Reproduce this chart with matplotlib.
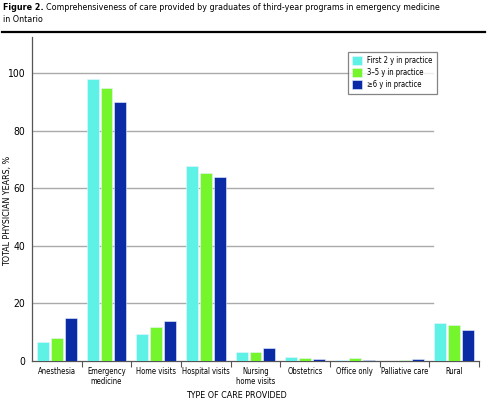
import numpy as np
import matplotlib.pyplot as plt
from matplotlib import font_manager
from matplotlib.lines import Line2D
from matplotlib.patches import Patch

categories = ['Anesthesia', 'Emergency\nmedicine', 'Home visits', 'Hospital visits',
              'Nursing\nhome visits', 'Obstetrics', 'Office only', 'Palliative care', 'Rural']
first_2y = [6.7, 97.9, 9.4, 67.9, 3.2, 1.5, 0.3, 0.1, 13.3]
y3_5 = [7.9, 94.8, 11.9, 65.3, 3.2, 1.0, 1.0, 0.3, 12.5]
y6_plus = [15.0, 89.9, 13.9, 64.0, 4.6, 0.6, 0.5, 0.7, 10.7]
series_labels = ['First 2 y in practice', '3\u20135 y in practice', '\u22656 y in practice']
colors = ['#5ef2e6', '#74f52c', '#0b2aa6']


def find_font(names):
    """pick the first installed font file from a list of file names"""
    files = {f.split('/')[-1].lower(): f for f in font_manager.findSystemFonts()}
    for n in names:
        if n in files:
            return font_manager.FontProperties(fname=files[n])
    return None


reg = find_font(['dejavusanscondensed.ttf', 'liberationsansnarrow-regular.ttf'])
bld = find_font(['dejavusanscondensed-bold.ttf', 'liberationsansnarrow-bold.ttf'])
if reg is None:
    reg = font_manager.FontProperties(family='DejaVu Sans', stretch='condensed')
if bld is None:
    bld = font_manager.FontProperties(family='DejaVu Sans', weight='bold', stretch='condensed')


def fp(size, bold=False):
    p = (bld if bold else reg).copy()
    p.set_size(size)
    return p


fig = plt.figure(figsize=(4.87, 4.12), dpi=100)
ax = fig.add_axes([32 / 487, 1 - 361 / 412, (479 - 32) / 487, (361 - 37) / 412])

x = np.arange(len(categories))
w = 0.24
off = 0.278
for vals, c, dx, lab in zip([first_2y, y3_5, y6_plus], colors, [-off, 0, off], series_labels):
    ax.bar(x + dx, vals, w, color=c, edgecolor='#e8f4ff', linewidth=0.4, zorder=3, label=lab)

ax.set_xlim(-0.5, len(categories) - 0.5)
ax.set_ylim(0, 112.6)
for yv in [20, 40, 60, 80, 100]:
    ax.axhline(yv, xmin=0, xmax=0.897, color='#aaaaaa', lw=1, zorder=1)

ax.set_yticks([0, 20, 40, 60, 80, 100])
ax.tick_params(axis='y', length=0, pad=5)
for t in ax.get_yticklabels():
    t.set_fontproperties(fp(7.5))
ax.set_xticks(x)
ax.set_xticklabels(categories, linespacing=1.15)
for t in ax.get_xticklabels():
    t.set_fontproperties(fp(5.5))
ax.tick_params(axis='x', length=0, pad=4)
ax.set_xticks(np.arange(0.5, len(categories), 1), minor=True)
ax.tick_params(axis='x', which='minor', length=4, width=0.8, color='#555555')

for s in ['top', 'right']:
    ax.spines[s].set_visible(False)
for s in ['left', 'bottom']:
    ax.spines[s].set_color('#555555')
    ax.spines[s].set_linewidth(0.9)

handles = [Patch(facecolor=c, edgecolor='#e8f4ff', linewidth=0.4) for c in colors]
leg = ax.legend(handles, series_labels, loc='upper left',
                bbox_to_anchor=((348 - 32) / 447, (361 - 52) / 324),
                prop=fp(5.5), frameon=True, fancybox=False, handlelength=1.3,
                handleheight=1.4, handletextpad=0.7, labelspacing=0.4,
                borderpad=0.55, borderaxespad=0)
leg.get_frame().set_edgecolor('#666666')
leg.get_frame().set_linewidth(0.9)
leg.set_zorder(5)

fig.text(8 / 487, 1 - 211 / 412, 'TOTAL PHYSICIAN YEARS, %', rotation=90,
         ha='center', va='center', fontproperties=fp(6.4))
fig.text(236 / 487, 1 - 395 / 412, 'TYPE OF CARE PROVIDED', ha='center', va='center',
         fontproperties=fp(6.4))

# title
renderer = fig.canvas.get_renderer()
t1 = fig.text(3 / 487, 1 - 8 / 412, 'Figure 2.', fontproperties=fp(6.4, True), va='center')
bb = t1.get_window_extent(renderer)
fig.text(bb.x1 / fig.bbox.width + 2 / 487, 1 - 8 / 412,
         'Comprehensiveness of care provided by graduates of third-year programs in emergency medicine',
         fontproperties=fp(6.4), va='center')
fig.text(3 / 487, 1 - 20 / 412, 'in Ontario', fontproperties=fp(6.4), va='center')
fig.add_artist(Line2D([2 / 487, 485 / 487], [1 - 32 / 412, 1 - 32 / 412],
                      color='black', lw=1.6, transform=fig.transFigure))

fig.savefig('out.png', dpi=100)
